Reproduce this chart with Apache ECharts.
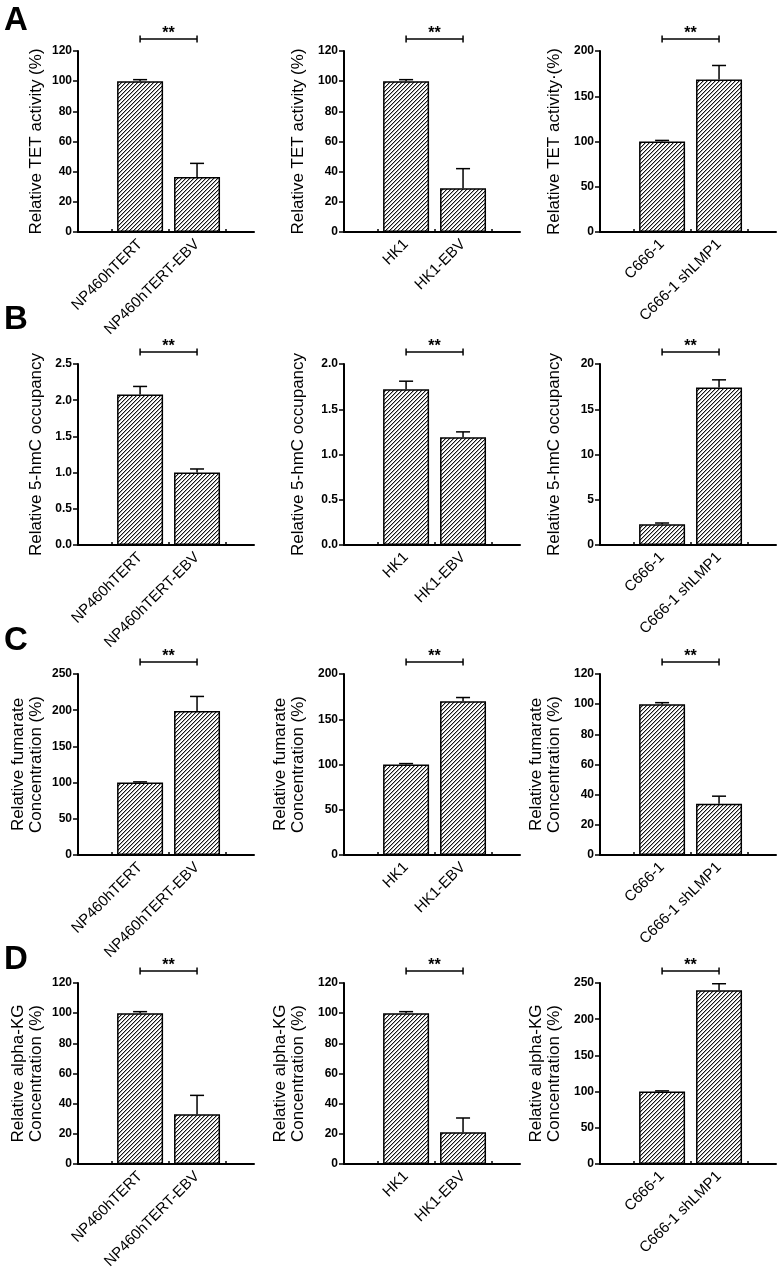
<!DOCTYPE html>
<html>
<head>
<meta charset="utf-8">
<script src="https://cdn.jsdelivr.net/npm/echarts@6/dist/echarts.min.js"></script>
<style>
html,body{margin:0;padding:0;background:#fff;}
#chart{width:780px;height:1273px;}
</style>
</head>
<body>
<div id="chart"></div>
<script>
// ---------- data ----------
const panelLetters = ['A', 'B', 'C', 'D'];
const catsNP = ['NP460hTERT', 'NP460hTERT-EBV'];
const catsHK = ['HK1', 'HK1-EBV'];
const catsC6 = ['C666-1', 'C666-1 shLMP1'];

const titlesTET = ['Relative TET activity (%)', 'Relative TET activity (%)', 'Relative TET activity\u00b7(%)'];
const titlesHMC = ['Relative 5-hmC occupancy', 'Relative 5-hmC occupancy', 'Relative 5-hmC occupancy'];
const titlesFUM = ['Relative fumarate\nConcentration (%)', 'Relative fumarate\nConcentration (%)', 'Relative fumarate\nConcentration (%)'];
const titlesAKG = ['Relative alpha-KG\nConcentration (%)', 'Relative alpha-KG\nConcentration (%)', 'Relative alpha-KG\nConcentration (%)'];

const tetMeans = [[100, 36.5], [100, 29], [100, 168.5]];
const tetErrs  = [[1, 9], [1, 13], [1.2, 15.5]];
const hmcMeans = [[2.08, 1.0], [1.72, 1.19], [2.3, 17.4]];
const hmcErrs  = [[0.11, 0.05], [0.09, 0.06], [0.13, 0.85]];
const fumMeans = [[100, 199], [100, 170], [100, 34]];
const fumErrs  = [[1, 20], [1, 4], [1, 5]];
const akgMeans = [[100, 33], [100, 21], [100, 240]];
const akgErrs  = [[1, 12.5], [1, 9.5], [1, 9]];

const tetMax = [120, 120, 200], tetStep = [20, 20, 50];
const hmcMax = [2.5, 2.0, 20],  hmcStep = [0.5, 0.5, 5];
const fumMax = [250, 200, 120], fumStep = [50, 50, 20];
const akgMax = [120, 120, 250], akgStep = [20, 20, 50];
const hmcDecimals = [1, 1, 0];
const significance = '**';

// ---------- layout ----------
const FONT = 'Arial, "Liberation Sans", Helvetica, sans-serif';
const colLeft = [78, 344, 600];
const rowTop = [51, 364, 674, 983];
const letterTop = [4, 303, 624, 943];
const gridW = 176, gridH = 181;
const nameGaps = [33, 37, 37];

// hatch pattern
function makeHatch() {
  const s = 4;
  const c = document.createElement('canvas');
  c.width = s; c.height = s;
  const ctx = c.getContext('2d');
  const img = ctx.createImageData(s, s);
  for (let y = 0; y < s; y++) {
    for (let x = 0; x < s; x++) {
      const d = (x + y) % s;
      let v = 255;
      if (d === s - 1) v = 20;
      else if (d === 0) v = 170;
      const i = (y * s + x) * 4;
      img.data[i] = v; img.data[i + 1] = v; img.data[i + 2] = v; img.data[i + 3] = 255;
    }
  }
  ctx.putImageData(img, 0, 0);
  return c;
}
const hatch = makeHatch();

const rowsDef = [
  {means: tetMeans, errs: tetErrs, max: tetMax, step: tetStep, titles: titlesTET, dec: [0, 0, 0]},
  {means: hmcMeans, errs: hmcErrs, max: hmcMax, step: hmcStep, titles: titlesHMC, dec: hmcDecimals},
  {means: fumMeans, errs: fumErrs, max: fumMax, step: fumStep, titles: titlesFUM, dec: [0, 0, 0]},
  {means: akgMeans, errs: akgErrs, max: akgMax, step: akgStep, titles: titlesAKG, dec: [0, 0, 0]}
];
const colCats = [catsNP, catsHK, catsC6];

const grid = [], xAxis = [], yAxis = [], series = [], title = [];

rowsDef.forEach((rd, r) => {
  title.push({
    text: panelLetters[r], left: 4, top: letterTop[r], padding: 0,
    textStyle: {fontSize: 33, fontWeight: 'bold', color: '#000', fontFamily: FONT}
  });
  for (let c = 0; c < 3; c++) {
    const gi = grid.length;
    const cats = colCats[c];
    grid.push({left: colLeft[c], top: rowTop[r], width: gridW, height: gridH});
    xAxis.push({
      gridIndex: gi, type: 'value', min: -1.09, max: 2.0,
      axisLine: {show: true, onZero: false, lineStyle: {color: '#000', width: 2}},
      axisTick: {show: true, inside: true, length: 3, customValues: [-0.5, 0.5, 1.5], lineStyle: {color: '#000', width: 1.5}},
      axisLabel: {
        show: true, customValues: [0, 1], rotate: 45, margin: 10,
        formatter: v => cats[Math.round(v)] || '',
        color: '#000', fontSize: 15, fontFamily: FONT
      },
      splitLine: {show: false}
    });
    const dec = rd.dec[c];
    yAxis.push({
      gridIndex: gi, type: 'value', min: 0, max: rd.max[c], interval: rd.step[c],
      name: rd.titles[c], nameLocation: 'middle', nameGap: nameGaps[c],
      nameTextStyle: {fontSize: 17, color: '#000', fontFamily: FONT, lineHeight: 18},
      axisLine: {show: true, onZero: false, lineStyle: {color: '#000', width: 2}},
      axisTick: {show: true, length: 5, lineStyle: {color: '#000', width: 1.5}},
      axisLabel: {
        margin: 6, color: '#000', fontSize: 12, fontWeight: 'bold', fontFamily: FONT,
        formatter: v => Number(v).toFixed(dec)
      },
      splitLine: {show: false}
    });
    const means = rd.means[c], errs = rd.errs[c];
    series.push({
      type: 'bar', xAxisIndex: gi, yAxisIndex: gi, barWidth: 46,
      data: means.map((m, i) => [i, m]),
      itemStyle: {color: {image: hatch, repeat: 'repeat'}, borderColor: '#000', borderWidth: 1.5},
      emphasis: {disabled: true}, silent: true, z: 2
    });
    series.push({
      type: 'custom', xAxisIndex: gi, yAxisIndex: gi, clip: false, z: 3, silent: true,
      data: means.map((m, i) => [i, m, errs[i]]),
      renderItem: (params, api) => {
        const x = api.value(0), m = api.value(1), e = api.value(2);
        const p0 = api.coord([x, m]);
        const p1 = api.coord([x, m + e]);
        const hw = 7;
        return {type: 'group', children: [
          {type: 'line', shape: {x1: p0[0], y1: p0[1], x2: p1[0], y2: p1[1]}, style: {stroke: '#000', lineWidth: 1.5}},
          {type: 'line', shape: {x1: p1[0] - hw, y1: p1[1], x2: p1[0] + hw, y2: p1[1]}, style: {stroke: '#000', lineWidth: 1.5}}
        ]};
      }
    });
    series.push({
      type: 'custom', xAxisIndex: gi, yAxisIndex: gi, clip: false, z: 3, silent: true,
      data: [[0, 1]],
      renderItem: (params, api) => {
        const xa = api.coord([api.value(0), 0])[0];
        const xb = api.coord([api.value(1), 0])[0];
        const y = params.coordSys.y - 12;
        const st = {stroke: '#000', lineWidth: 1.5};
        return {type: 'group', children: [
          {type: 'line', shape: {x1: xa, y1: y, x2: xb, y2: y}, style: st},
          {type: 'line', shape: {x1: xa, y1: y - 3.5, x2: xa, y2: y + 3.5}, style: st},
          {type: 'line', shape: {x1: xb, y1: y - 3.5, x2: xb, y2: y + 3.5}, style: st},
          {type: 'text', style: {text: significance, x: (xa + xb) / 2, y: y - 5, align: 'center', verticalAlign: 'middle',
            font: 'bold 16px ' + FONT, fill: '#000'}}
        ]};
      }
    });
  }
});

const chart = echarts.init(document.getElementById('chart'), null, {renderer: 'canvas'});
chart.setOption({
  backgroundColor: '#fff',
  animation: false,
  title, grid, xAxis, yAxis, series
});
</script>
</body>
</html>
